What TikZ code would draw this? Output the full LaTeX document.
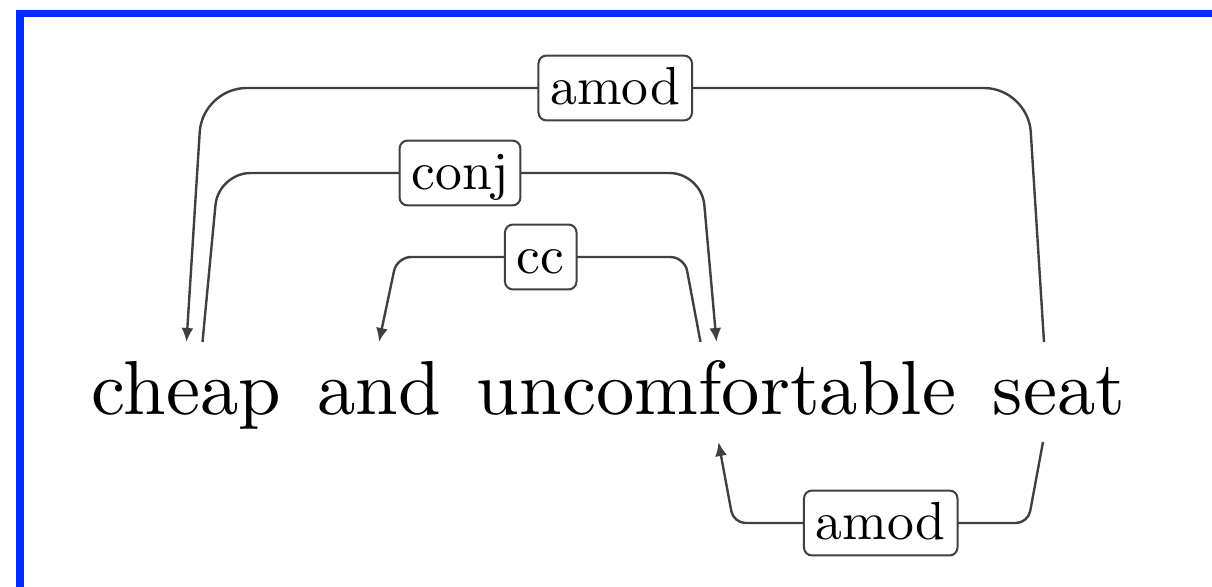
\documentclass[tikz,border=0pt]{standalone}
\usetikzlibrary{arrows.meta,calc}
\definecolor{framecolor}{RGB}{0,45,255}
\newcommand{\wordtext}[1]{\scalebox{3.83}{\fontsize{10}{12}\selectfont #1}}
\newcommand{\labeltext}[1]{\scalebox{2.68}{\fontsize{10}{12}\selectfont #1}}
\begin{document}
\begin{tikzpicture}[x=0.5pt,y=-0.5pt,
  word/.style={anchor=base, inner sep=0pt},
  deplabel/.style={draw=black!75, rounded corners=4pt, line width=1pt, fill=white,
    inner xsep=6pt, inner ysep=5.75pt, text height=18.7pt, text depth=2.25pt},
  deparc/.style={draw=black!75, line width=1.2pt},
  tip/.style={-{Latex[length=7pt,width=6pt]}}]
\useasboundingbox (0,0) rectangle (1212,586);
\draw[line width=3.6pt, draw=framecolor] (20,13.5) rectangle (1400,800);
% words
\node[word] (cheap) at (186.5,414) {\wordtext{cheap}};
\node[word] (and) at (379,414) {\wordtext{and}};
\node[word] (unc) at (716.5,414) {\wordtext{uncomfortable}};
\node[word] (seat) at (1059,414) {\wordtext{seat}};
% amod (seat -> cheap), above
\draw[deparc, tip, rounded corners=22pt]
  ($(seat.base)+(-15,-72)$) -- ($(seat.base)+(-31,-326)$) coordinate (a1)
  -- ($(cheap.base)+(16,-326)$) coordinate (a2) -- ($(cheap.base)+(0,-72)$);
\node[deplabel] (l1) at ($(a1)!0.5!(a2)$) {\labeltext{amod}};
% conj (cheap -> uncomfortable)
\draw[deparc, tip, rounded corners=16pt]
  ($(cheap.base)+(16,-72)$) -- ($(cheap.base)+(32,-241)$) coordinate (b1)
  -- ($(unc.base)+(-15,-241)$) coordinate (b2) -- ($(unc.base)+(0,-72)$);
\node[deplabel] (l2) at ($(b1)!0.5!(b2)$) {\labeltext{conj}};
% cc (uncomfortable -> and)
\draw[deparc, tip, rounded corners=7pt]
  ($(unc.base)+(-16,-72)$) -- ($(unc.base)+(-32,-157)$) coordinate (c1)
  -- ($(and.base)+(18,-157)$) coordinate (c2) -- ($(and.base)+(0,-72)$);
\node[deplabel] (l3) at ($(c1)!0.5!(c2)$) {\labeltext{cc}};
% amod (seat -> uncomfortable), below
\draw[deparc, tip, rounded corners=6pt]
  ($(seat.base)+(-16,28)$) -- ($(seat.base)+(-31,109)$) coordinate (d1)
  -- ($(unc.base)+(17,109)$) coordinate (d2) -- ($(unc.base)+(2,28)$);
\node[deplabel] (l4) at ($(d1)!0.5!(d2)$) {\labeltext{amod}};
\end{tikzpicture}
\end{document}
